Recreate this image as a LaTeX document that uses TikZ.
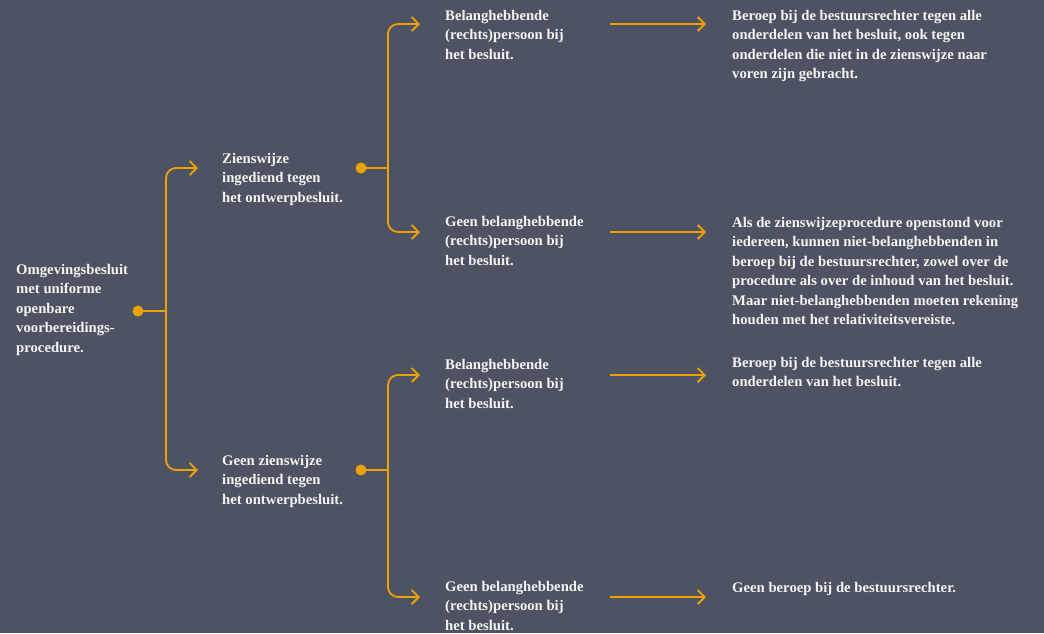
\documentclass[tikz,border=0pt]{standalone}
\usepackage{fontspec}
\setmainfont{Liberation Serif}
\usetikzlibrary{arrows.meta}
\definecolor{bg}{HTML}{4D5363}
\definecolor{conn}{HTML}{EDA204}
\definecolor{txt}{HTML}{F4F4F2}
\begin{document}
\begin{tikzpicture}[x=1pt,y=-1pt,
  lbl/.style={anchor=base west, inner sep=0pt, align=left, text=txt,
    font=\bfseries\fontsize{14.7}{19.5}\selectfont},
  link/.style={draw=conn, line width=1.8pt},
  arr/.style={link, -{Straight Barb[length=7pt,width=14pt]}},
  branch/.style={arr, rounded corners=10pt}]
\fill[bg] (0,0) rectangle (1044,633);
\useasboundingbox (0,0) rectangle (1044,633);

% text nodes (positioned by the baseline of their last line)
\node[lbl] (root) at (16,352) {Omgevingsbesluit\\met uniforme\\openbare\\voorbereidings-\\procedure.};
\node[lbl] (z1) at (222,202) {Zienswijze\\ingediend tegen\\het ontwerpbesluit.};
\node[lbl] (z2) at (222,504) {Geen zienswijze\\ingediend tegen\\het ontwerpbesluit.};
\node[lbl] (b1) at (445,59) {Belanghebbende\\(rechts)persoon bij\\het besluit.};
\node[lbl] (b2) at (445,265) {Geen belanghebbende\\(rechts)persoon bij\\het besluit.};
\node[lbl] (b3) at (445,408) {Belanghebbende\\(rechts)persoon bij\\het besluit.};
\node[lbl] (b4) at (445,630) {Geen belanghebbende\\(rechts)persoon bij\\het besluit.};
\node[lbl] (r1) at (732,78.5) {Beroep bij de bestuursrechter tegen alle\\onderdelen van het besluit, ook tegen\\onderdelen die niet in de zienswijze naar\\voren zijn gebracht.};
\node[lbl] (r2) at (732,324.5) {Als de zienswijzeprocedure openstond voor\\iedereen, kunnen niet-belanghebbenden in\\beroep bij de bestuursrechter, zowel over de\\procedure als over de inhoud van het besluit.\\Maar niet-belanghebbenden moeten rekening\\houden met het relativiteitsvereiste.};
\node[lbl] (r3) at (732,386.5) {Beroep bij de bestuursrechter tegen alle\\onderdelen van het besluit.};
\node[lbl] (r4) at (732,592) {Geen beroep bij de bestuursrechter.};

% connector points
\coordinate (d0) at (138,311);
\coordinate (j0) at (166,311);
\coordinate (d1) at (361,168);
\coordinate (j1) at (388,168);
\coordinate (d2) at (361,470);
\coordinate (j2) at (388,470);
\coordinate (tz1) at (198,168);
\coordinate (tz2) at (198,470);
\coordinate (tb1) at (420,24);
\coordinate (tb2) at (420,232);
\coordinate (tb3) at (420,375);
\coordinate (tb4) at (420,597);
\coordinate (s1) at (610,24);   \coordinate (e1) at (706,24);
\coordinate (s2) at (610,232);  \coordinate (e2) at (706,232);
\coordinate (s3) at (610,375);  \coordinate (e3) at (706,375);
\coordinate (s4) at (610,597);  \coordinate (e4) at (706,597);

% level 1
\draw[link] (d0) -- (j0);
\draw[branch] (j0) |- (tz1);
\draw[branch] (j0) |- (tz2);
% level 2
\draw[link] (d1) -- (j1);
\draw[branch] (j1) |- (tb1);
\draw[branch] (j1) |- (tb2);
\draw[link] (d2) -- (j2);
\draw[branch] (j2) |- (tb3);
\draw[branch] (j2) |- (tb4);
% level 3
\draw[arr] (s1) -- (e1);
\draw[arr] (s2) -- (e2);
\draw[arr] (s3) -- (e3);
\draw[arr] (s4) -- (e4);
% dots
\foreach \d in {d0,d1,d2} \fill[conn] (\d) circle (5.5pt);
\end{tikzpicture}
\end{document}
